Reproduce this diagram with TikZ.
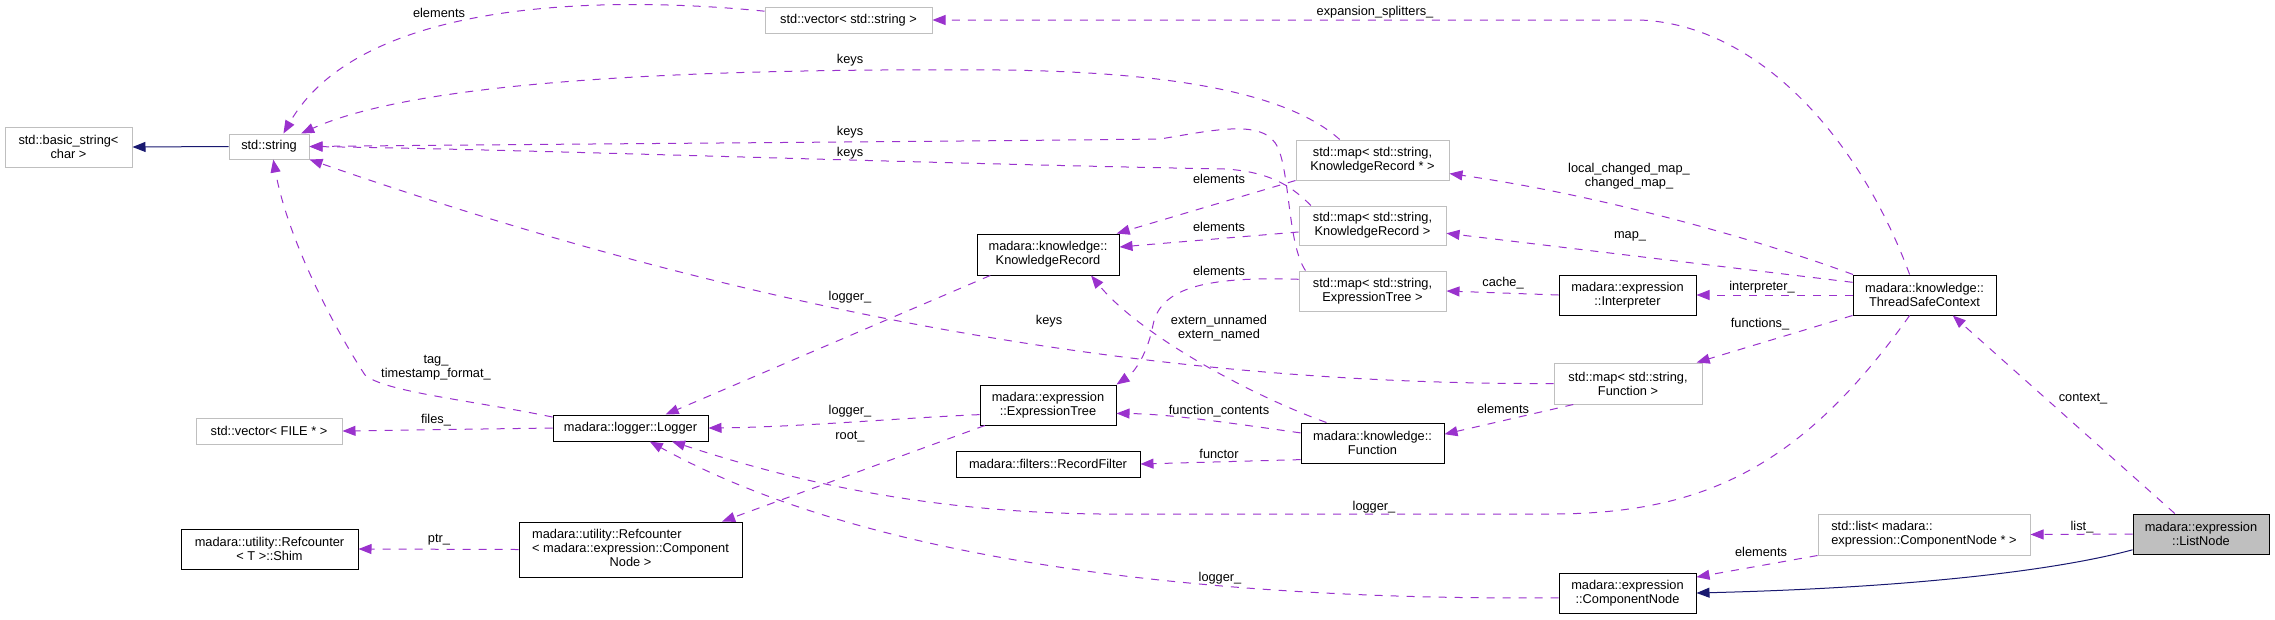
\documentclass[tikz,border=0pt]{standalone}
\usepackage{fontspec}
\setmainfont{Liberation Sans}
\usetikzlibrary{arrows.meta}
\definecolor{depcol}{HTML}{9A32CD}
\definecolor{inhcol}{HTML}{191970}
\definecolor{undoc}{HTML}{BFBFBF}
\tikzset{
    cls/.style={draw=black, line width=1pt, inner sep=0pt, align=center, minimum height=40pt},
    ext/.style={cls, draw=undoc},
    lbl/.style={inner sep=0pt, align=center},
    uses/.style={draw=depcol, line width=1pt, dash pattern=on 8pt off 8pt, -{Triangle[length=13pt,width=10pt]}},
    isa/.style={draw=inhcol, line width=1pt, -{Triangle[length=13pt,width=10pt]}}
}
\begin{document}
\begin{tikzpicture}[x=1pt, y=-1pt, font=\fontsize{12.8}{14}\selectfont]
            \useasboundingbox (0,0) rectangle (2275,619);
            \node[ext, minimum width=127pt] (bstr) at (68.5,147) {std::basic\_string<\\char >};
            \node[ext, minimum width=80pt, minimum height=25pt] (str) at (269,146.5) {std::string};
            \node[ext, minimum width=167pt, minimum height=26pt] (vecstr) at (848.5,20) {std::vector< std::string >};
            \node[ext, minimum width=153pt] (mapkrp) at (1372.5,160) {std::map< std::string,\\KnowledgeRecord * >};
            \node[ext, minimum width=147pt, minimum height=39pt] (mapkr) at (1372.5,225.5) {std::map< std::string,\\KnowledgeRecord >};
            \node[ext, minimum width=147pt] (mapet) at (1372.5,291) {std::map< std::string,\\ExpressionTree >};
            \node[cls, minimum width=142pt, minimum height=41pt] (kr) at (1048,254.5) {madara::knowledge::\\KnowledgeRecord};
            \node[cls, minimum width=137pt] (interp) at (1627.5,295) {madara::expression\\::Interpreter};
            \node[cls, minimum width=143pt] (tsc) at (1924.5,295) {madara::knowledge::\\ThreadSafeContext};
            \node[ext, minimum width=148pt, minimum height=41pt] (mapfn) at (1628,383.5) {std::map< std::string,\\Function >};
            \node[ext, minimum width=212pt, minimum height=41pt, align=left] (stdlist) at (1924,534.5) {std::list< madara::\\expression::ComponentNode * >};
            \node[cls, fill=undoc, minimum width=136pt] (listnode) at (2201,534) {madara::expression\\::ListNode};
            \node[cls, minimum width=137pt] (compnode) at (1627.5,593) {madara::expression\\::ComponentNode};
            \node[cls, minimum width=136pt] (et) at (1048,405) {madara::expression\\::ExpressionTree};
            \node[cls, minimum width=184pt, minimum height=26pt] (recfilter) at (1048,464) {madara::filters::RecordFilter};
            \node[cls, minimum width=143pt] (function) at (1372.5,443) {madara::knowledge::\\Function};
            \node[ext, minimum width=146pt, minimum height=26pt] (vecfile) at (269,431) {std::vector< FILE * >};
            \node[cls, minimum width=155pt, minimum height=26pt] (logger) at (630.5,428) {madara::logger::Logger};
            \node[cls, minimum width=177pt] (shim) at (269.5,549) {madara::utility::Refcounter\\< T >::Shim};
            \node[cls, minimum width=223pt, minimum height=55pt] (refcn) at (630.5,549.5) {\begin{tabular}{@{}l@{}}madara::utility::Refcounter\\< madara::expression::Component\\\multicolumn{1}{@{}c@{}}{Node >}\end{tabular}};
            \draw[isa] (str.west) -- (bstr.east);
            \draw[isa] (listnode.193) .. controls (2050,572) and (1900,588) .. (compnode.east);
            \draw[uses] (vecstr.174) .. controls (600,-5) and (360,0) .. (str.42);
            \draw[uses] (mapkrp.148) .. controls (1290,95) and (1180,72) .. (1000,70) .. controls (700,68) and (420,80) .. (str.22);
            \draw[uses] (mapet.163) .. controls (1288,245) and (1290,175) .. (1278,148) .. controls (1265,118) and (1215,130) .. (1160,139) .. controls (900,142) and (550,144) .. (str.east);
            \draw[uses] (mapkr.162) .. controls (1295,190) and (1275,172) .. (1225,169) .. controls (900,163) and (550,150) .. (str.east);
            \draw[uses] (mapfn.west) .. controls (1200,385) and (800,330) .. (str.south east);
            \draw[uses] (logger.172) .. controls (470,400) and (385,392) .. (365,375) .. controls (345,345) and (290,250) .. (str.288);
            \draw[uses] (logger.west) -- (vecfile.east);
            \draw[uses] (refcn.west) -- (shim.east);
            \draw[uses] (kr.200) -- (logger.21);
            \draw[uses] (et.188) .. controls (900,418) and (800,427) .. (logger.east);
            \draw[uses] (et.198) -- (refcn.17);
            \draw[uses] (tsc.234) .. controls (1800,470) and (1700,514) .. (1550,514) -- (1100,514) .. controls (900,512) and (760,470) .. (logger.342);
            \draw[uses] (compnode.184) .. controls (1300,600) and (900,580) .. (logger.325);
            \draw[uses] (function.156) .. controls (1250,395) and (1140,335) .. (kr.334);
            \draw[uses] (mapet.171) .. controls (1200,276) and (1160,290) .. (1153,325) .. controls (1148,352) and (1135,372) .. (et.north east);
            \draw[uses] (function.172) .. controls (1230,423) and (1170,414) .. (et.353);
            \draw[uses] (function.193) -- (recfilter.east);
            \draw[uses] (mapfn.201) -- (function.7);
            \draw[uses] (tsc.south west) -- (mapfn.17);
            \draw[uses] (tsc.west) -- (interp.east);
            \draw[uses] (interp.west) -- (mapet.east);
            \draw[uses] (tsc.170) -- (mapkr.354);
            \draw[uses] (tsc.164) .. controls (1760,240) and (1600,195) .. (mapkrp.350);
            \draw[uses] (tsc.126) .. controls (1860,140) and (1760,25) .. (1640,20) -- (vecstr.east);
            \draw[uses] (listnode.142) -- (tsc.324);
            \draw[uses] (listnode.west) -- (stdlist.east);
            \draw[uses] (stdlist.south west) -- (compnode.13);
            \draw[uses] (mapkrp.south west) -- (kr.17);
            \draw[uses] (mapkr.185) -- (kr.6);
            \node[lbl] (lelema) at (439,13) {elements};
            \node[lbl] (lsplit) at (1375,12) {expansion\_splitters\_};
            \node[lbl] (lkeysa) at (850,60) {keys};
            \node[lbl] (lkeysb) at (850,132) {keys};
            \node[lbl] (lkeysc) at (850,153) {keys};
            \node[lbl] (lkeysd) at (1049,321) {keys};
            \node[lbl] (lchanged) at (1629,176) {local\_changed\_map\_\\changed\_map\_};
            \node[lbl] (lmap) at (1630,236) {map\_};
            \node[lbl] (lelemb) at (1219,179) {elements};
            \node[lbl] (lelemc) at (1219,227) {elements};
            \node[lbl] (lelemd) at (1219,271) {elements};
            \node[lbl] (lcache) at (1503,283) {cache\_};
            \node[lbl] (linterp) at (1762,287) {interpreter\_};
            \node[lbl] (lfuncs) at (1760,324) {functions\_};
            \node[lbl] (lextern) at (1219,328) {extern\_unnamed\\extern\_named};
            \node[lbl] (lloga) at (850,297) {logger\_};
            \node[lbl] (llogb) at (850,411) {logger\_};
            \node[lbl] (lroot) at (850,437) {root\_};
            \node[lbl] (lfcont) at (1219,411) {function\_contents};
            \node[lbl] (lfunctor) at (1219,454) {functor};
            \node[lbl] (leleme) at (1503,409) {elements};
            \node[lbl] (llogc) at (1374,507) {logger\_};
            \node[lbl] (llogd) at (1220,578) {logger\_};
            \node[lbl] (lcontext) at (2083,399) {context\_};
            \node[lbl] (llist) at (2082,527) {list\_};
            \node[lbl] (lelemf) at (1761,552) {elements};
            \node[lbl] (ltag) at (436,368) {tag\_\\timestamp\_format\_};
            \node[lbl] (lfiles) at (436,420) {files\_};
            \node[lbl] (lptr) at (439,540) {ptr\_};
\end{tikzpicture}
\end{document}
